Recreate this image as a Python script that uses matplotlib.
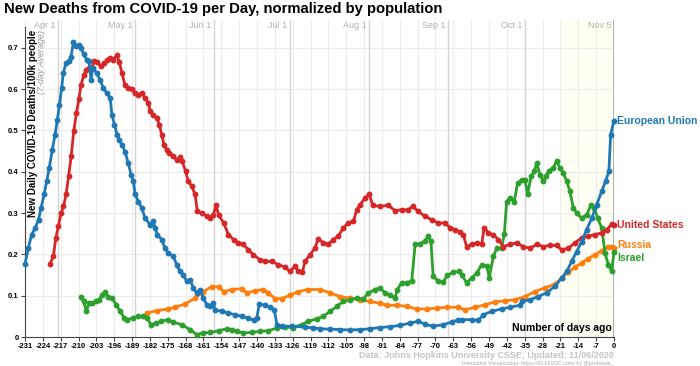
import matplotlib.pyplot as plt
import numpy as np

plt.rcParams['font.family'] = ['Liberation Sans', 'DejaVu Sans']

# Days ago (0 = Nov 5, 2020) and 7-day average deaths per 100k people
eu_days = [-231, -229.7, -228.4, -227, -225.7, -224.7, -223.5, -222.5, -221.5, -220.3, -219.2, -218.3,
           -217.5, -216.6, -216, -214.9, -213.6, -213, -212, -211, -210, -209, -208, -206.8, -205.9,
           -205.1, -204.4, -202.9, -201.6, -200.3, -199, -197.6, -196.9, -195.9, -194.9, -194, -193,
           -191.8, -190.5, -189.4, -188.5, -187.8, -186.5, -185.2, -183.9, -182, -180.7, -180, -179.1,
           -177.4, -176.1, -174.8, -172.8, -171.5, -170.2, -168.9, -167.6, -166.3, -165, -163.7, -162.4,
           -161, -159.7, -158.4, -157.1, -156.5, -153.9, -151.2, -148.6, -146, -143.4, -141, -140.1,
           -139.1, -136.9, -134.9, -133.2, -132.2, -130.3, -126.4, -121.2, -117.9, -115.3, -111.4,
           -107.5, -103.5, -99.6, -95.7, -91.8, -87.8, -83.9, -80, -76.7, -74.1, -70.9, -67, -63.7,
           -61.1, -59.7, -55.8, -53.2, -51.2, -48, -44.1, -40.8, -36.9, -36.2, -32.9, -29.7, -26.4,
           -23.1, -20.5, -18.5, -16.6, -14.6, -12.7, -10.7, -8.7, -6.8, -4.8, -3.3, -2, -1.3, 0]
eu_vals = [0.177, 0.215, 0.248, 0.264, 0.284, 0.312, 0.345, 0.377, 0.409, 0.453, 0.490, 0.526,
           0.562, 0.603, 0.639, 0.663, 0.669, 0.677, 0.714, 0.704, 0.708, 0.700, 0.684, 0.671, 0.667,
           0.623, 0.651, 0.639, 0.623, 0.603, 0.591, 0.579, 0.538, 0.514, 0.490, 0.478, 0.466,
           0.449, 0.421, 0.393, 0.377, 0.345, 0.328, 0.312, 0.288, 0.272, 0.280, 0.264, 0.248,
           0.236, 0.215, 0.203, 0.195, 0.175, 0.159, 0.151, 0.135, 0.139, 0.119, 0.107, 0.115,
           0.094, 0.078, 0.074, 0.082, 0.066, 0.062, 0.058, 0.054, 0.050, 0.046, 0.040, 0.046,
           0.080, 0.077, 0.072, 0.066, 0.030, 0.026, 0.026, 0.024, 0.022, 0.020, 0.019,
           0.018, 0.017, 0.018, 0.020, 0.023, 0.025, 0.028, 0.034, 0.038, 0.031, 0.026, 0.030, 0.036,
           0.042, 0.042, 0.042, 0.040, 0.054, 0.062, 0.068, 0.072, 0.077, 0.086, 0.090, 0.098, 0.107,
           0.123, 0.143, 0.159, 0.183, 0.207, 0.231, 0.260, 0.288, 0.320, 0.353, 0.377, 0.401, 0.490, 0.524]

us_days = [-221.2, -219.9, -218.9, -217.9, -216.9, -215.9, -214.9, -213.9, -212.9, -211.9, -210.8,
           -209.9, -209, -207.9, -206.9, -205.7, -204.8, -203.9, -202.6, -201.3, -200, -198.7, -197.6,
           -196.6, -195, -194, -193, -191.8, -190.5, -189.2, -187.8, -186.5, -185.2, -183.9, -182.6,
           -181.9, -180.7, -179.3, -178.3, -177.4, -176.5, -175.4, -174.4, -172.8, -171.5, -170.2,
           -169.3, -168, -167, -165.6, -164.3, -163.4, -161.6, -159.7, -158.4, -157.1, -156.1, -155.1,
           -153.1, -151.2, -149.2, -147.3, -145.3, -143.4, -141.4, -138.8, -136.9, -134.2, -131.6,
           -129, -127.1, -125.1, -123.8, -122.2, -121.2, -119.2, -117.3, -116, -114, -112.1, -110.1,
           -108.1, -106.2, -104.2, -102.2, -100.9, -99.6, -97.6, -96, -94.6, -91.8, -88.5, -85.9,
           -83.3, -80.7, -79, -76.7, -74.1, -71.5, -68.9, -66.3, -64.3, -62.4, -60.4, -59.1, -57.8,
           -55.8, -53.8, -51.9, -50.9, -49.3, -47.3, -45.4, -43.4, -40.8, -38.2, -35.6, -32.9, -30.3,
           -27.7, -25.1, -22.5, -20.5, -17.9, -15.3, -12.7, -10.1, -7.5, -4.8, -2.9, -0.7, 0]
us_vals = [0.177, 0.195, 0.240, 0.268, 0.300, 0.316, 0.345, 0.389, 0.437, 0.498, 0.542,
           0.575, 0.611, 0.635, 0.647, 0.651, 0.651, 0.669, 0.666, 0.655, 0.663, 0.671, 0.676,
           0.671, 0.682, 0.666, 0.639, 0.611, 0.603, 0.601, 0.591, 0.587, 0.590, 0.579, 0.567,
           0.546, 0.538, 0.530, 0.514, 0.490, 0.466, 0.453, 0.446, 0.437, 0.429, 0.435,
           0.425, 0.401, 0.377, 0.365, 0.345, 0.304, 0.300, 0.292, 0.288, 0.296, 0.320, 0.296,
           0.276, 0.248, 0.236, 0.228, 0.224, 0.211, 0.199, 0.187, 0.183, 0.183, 0.175,
           0.169, 0.159, 0.171, 0.159, 0.157, 0.183, 0.199, 0.215, 0.238, 0.228, 0.224, 0.236,
           0.244, 0.264, 0.276, 0.280, 0.308, 0.320, 0.337, 0.346, 0.319, 0.316, 0.319, 0.306,
           0.308, 0.308, 0.316, 0.304, 0.292, 0.284, 0.276, 0.276, 0.265, 0.260, 0.254, 0.248, 0.219,
           0.224, 0.228, 0.224, 0.265, 0.252, 0.248, 0.236, 0.219, 0.224, 0.228, 0.219, 0.215, 0.224,
           0.219, 0.222, 0.222, 0.211, 0.215, 0.228, 0.240, 0.244, 0.248, 0.252, 0.260, 0.274, 0.272]

ru_days = [-183.1, -179.3, -174.8, -172.2, -168.2, -164.3, -161, -157.8, -155.1, -153.1, -149.9,
           -146, -144.1, -140.8, -137.5, -135.6, -132.9, -130.3, -127.1, -123.8, -119.9, -115.3,
           -111.4, -107.5, -103.5, -99.6, -95.7, -91.8, -89.2, -85.2, -81.3, -77.4, -73.5, -69.5,
           -65.6, -61.1, -58.4, -54.5, -50.6, -46.7, -42.7, -38.8, -34.9, -31, -27.1, -23.1, -20.5,
           -17.9, -15.3, -12.7, -10.1, -7.5, -4.8, -2.5, -0.9, 0]
ru_vals = [0.058, 0.064, 0.068, 0.072, 0.080, 0.094, 0.110, 0.122, 0.122, 0.110, 0.115,
           0.117, 0.107, 0.112, 0.115, 0.107, 0.093, 0.093, 0.101, 0.110, 0.115, 0.115,
           0.107, 0.098, 0.094, 0.090, 0.086, 0.082, 0.077, 0.077, 0.074, 0.068, 0.068, 0.070,
           0.072, 0.072, 0.066, 0.072, 0.078, 0.085, 0.088, 0.090, 0.098, 0.110, 0.119, 0.128, 0.143,
           0.157, 0.169, 0.179, 0.190, 0.199, 0.209, 0.217, 0.219, 0.215]

il_days = [-209, -208, -206.9, -206, -204.6, -203.3, -202, -200.7, -199.7, -198.4, -196.7, -195.3,
           -193.6, -192.1, -190.8, -188.8, -186.8, -184.9, -183.1, -181.6, -179.6, -177.6, -175,
           -172.8, -169.5, -166.3, -163.7, -161, -158.4, -155.1, -151.9, -149.9, -147.9, -145.3,
           -142, -138.8, -135.6, -132.2, -129, -125.8, -122.5, -119.9, -116.6, -114, -111.4, -108.7,
           -106.2, -103.5, -100.9, -98.3, -96.3, -93.7, -91.8, -89.8, -87.8, -85.9, -85, -83.3,
           -81.3, -79.3, -78, -76, -74.1, -72.8, -71.8, -70.9, -68.9, -67, -65.4, -63, -60.7, -59.7,
           -57.8, -55.8, -53.8, -51.9, -49.9, -48.9, -47.3, -46, -44.1, -43, -42.1, -40.8, -39.1,
           -37.8, -36.2, -34.9, -33.9, -32.5, -31.3, -30.3, -29, -27.7, -26.8, -25.5, -23.8, -22.5,
           -21.2, -19.9, -18.5, -17.3, -15.9, -14.6, -12.7, -10.7, -9, -7.7, -6.4, -4.8, -3.5, -2.2,
           -0.9, 0]
il_vals = [0.098, 0.086, 0.062, 0.082, 0.082, 0.086, 0.090, 0.102, 0.109, 0.098, 0.094, 0.078,
           0.062, 0.046, 0.042, 0.046, 0.050, 0.050, 0.046, 0.030, 0.034, 0.038, 0.042,
           0.036, 0.030, 0.018, 0.006, 0.010, 0.011, 0.015, 0.020, 0.018, 0.014, 0.010,
           0.011, 0.014, 0.015, 0.022, 0.024, 0.023, 0.030, 0.038, 0.044, 0.050, 0.062, 0.074,
           0.086, 0.090, 0.094, 0.092, 0.107, 0.115, 0.119, 0.107, 0.102, 0.094, 0.115, 0.131,
           0.131, 0.136, 0.224, 0.225, 0.233, 0.244, 0.232, 0.147, 0.135, 0.133, 0.149, 0.157, 0.159, 0.151,
           0.131, 0.143, 0.155, 0.175, 0.171, 0.144, 0.195, 0.215, 0.215, 0.249, 0.328, 0.337, 0.328,
           0.373, 0.381, 0.381, 0.345, 0.389, 0.401, 0.421, 0.393, 0.377, 0.389, 0.403, 0.409, 0.427,
           0.409, 0.397, 0.377, 0.353, 0.312, 0.300, 0.288, 0.296, 0.320, 0.312, 0.288, 0.264, 0.203, 0.175,
           0.159, 0.205]

month_names = ['Apr 1', 'May 1', 'Jun 1', 'Jul 1', 'Aug 1', 'Sep 1', 'Oct 1', 'Nov 5']
month_days = [-218, -188, -157, -127, -96, -65, -35, 0]

series = [
    ('Russia', ru_days, ru_vals, '#ff7f0e'),
    ('Israel', il_days, il_vals, '#2ca02c'),
    ('United States', us_days, us_vals, '#d62728'),
    ('European Union', eu_days, eu_vals, '#1f77b4'),
]
label_offsets = {'European Union': 0, 'United States': 0.0, 'Russia': 0.008, 'Israel': -0.013}

fig = plt.figure(figsize=(7, 3.66), dpi=100)
ax = fig.add_axes([0.0357, 0.0792, 0.8414, 0.8668])
ax.set_xlim(-231, 0)
ax.set_ylim(0, 0.768)

# faint highlight of the most recent weeks
ax.axvspan(-21, 0, color='#fefef3', zorder=0)

xt = np.arange(-231, 1, 7)
ax.set_xticks(xt)
ax.set_xticklabels([str(t) for t in xt], fontsize=5.5, fontweight='bold')
ax.set_yticks(np.arange(0, 0.71, 0.1))
ax.set_yticklabels(['0'] + ['%.1f' % v for v in np.arange(0.1, 0.71, 0.1)], fontsize=5.5, fontweight='bold')
ax.tick_params(length=3, width=0.8, color='#444444', pad=1.5)
for t in xt:
    ax.axvline(t, color='#ececec', lw=0.8, zorder=0)
for v in np.arange(0.1, 0.71, 0.1):
    ax.axhline(v, color='#ececec', lw=0.8, zorder=0)
for name, d in zip(month_names, month_days):
    ax.axvline(d, color='#a8a8a8' if d == 0 else '#d4d4d4', lw=1.3 if d == 0 else 1.0, zorder=0.5)
    ax.text(d - 1, 0.765, name, ha='right', va='top', fontsize=6.5, color='#b0b0b0')

for s in ['top', 'right']:
    ax.spines[s].set_visible(False)
ax.spines['left'].set_bounds(0, 0.75)
ax.spines['left'].set_color('#444444')
ax.spines['bottom'].set_color('#444444')

for name, d, v, c in series:
    ax.plot(d, v, color=c, lw=2.0, marker='o', markersize=3.2, clip_on=False, zorder=3)
    ax.text(1.2, v[-1] + label_offsets[name], name, color=c, fontsize=7.5, fontweight='bold',
            va='center', ha='left', clip_on=False)

ax.text(0.014, 0.968, 'New Daily COVID-19 Deaths/100k people', transform=ax.transAxes,
        rotation=90, ha='center', va='top', fontsize=7, fontweight='bold')
ax.text(0.028, 0.968, '(7-day Average)', transform=ax.transAxes, rotation=90,
        ha='center', va='top', fontsize=6.5, style='italic', color='#999999')
ax.text(0.997, 0.012, 'Number of days ago', transform=ax.transAxes, ha='right', va='bottom',
        fontsize=7.5, fontweight='bold')

fig.text(0.005, 0.995, 'New Deaths from COVID-19 per Day, normalized by population',
         ha='left', va='top', fontsize=10.7, fontweight='bold')
fig.text(0.877, 0.03, 'Data: Johns Hopkins University CSSE; Updated: 11/06/2020',
         ha='right', va='center', fontsize=6.5, fontweight='bold', color='#c4c4c4')
fig.text(0.877, 0.006, 'Interactive Visualization: https://91-DIVOC.com/ by @profwade_',
         ha='right', va='center', fontsize=3.8, color='#aaaaaa')

fig.savefig('out.png', dpi=100, facecolor='white')
